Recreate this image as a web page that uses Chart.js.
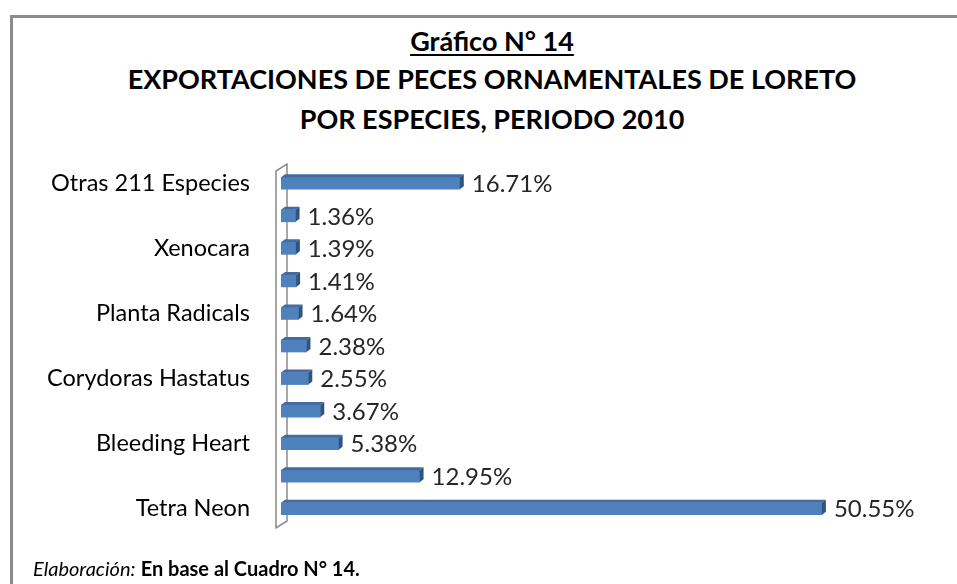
<!DOCTYPE html>
<html>
<head>
<meta charset="utf-8">
<script src="https://cdn.jsdelivr.net/npm/chart.js@4/dist/chart.umd.min.js"></script>
<style>
  html, body { margin: 0; padding: 0; background: #fff; overflow: hidden; }
  body { width: 957px; height: 584px; position: relative; font-family: Lato, "Open Sans", sans-serif; }
  #frame { position: absolute; left: 10px; top: 15px; right: -10px; bottom: -10px;
           border-left: 3px solid #8c8c8c; border-top: 3px solid #8c8c8c; }
  .ttl { position: absolute; left: 0; width: 984px; text-align: center; font-weight: bold; color: #000;
         font-size: 27px; line-height: 32px; }
  #t1 { top: 25px; text-decoration: underline; text-underline-offset: 3px; }
  #t2 { top: 63px; }
  #t3 { top: 103px; }
  #foot { position: absolute; left: 33px; top: 556px; font-size: 20px; color: #000; }
  canvas { position: absolute; left: 0; top: 0; }
</style>
</head>
<body>
<div id="frame"></div>
<div class="ttl" id="t1">Gráfico N° 14</div>
<div class="ttl" id="t2">EXPORTACIONES DE PECES ORNAMENTALES DE LORETO</div>
<div class="ttl" id="t3">POR ESPECIES, PERIODO 2010</div>
<canvas id="chart" width="957" height="584"></canvas>
<div id="foot"><i>Elaboración:</i> <b>En base al Cuadro N° 14.</b></div>
<script>
// top to bottom, as in the picture (only every other name is printed there)
const categories = [
    "Otras 211 Especies", "", "Xenocara", "", "Planta Radicals", "",
    "Corydoras Hastatus", "", "Bleeding Heart", "", "Tetra Neon"
];
const shares = [16.71, 1.36, 1.39, 1.41, 1.64, 2.38, 2.55, 3.67, 5.38, 12.95, 50.55];

const barBlue = "#4F81BD";
const fontFamily = "Lato, 'Open Sans', sans-serif";

// thin 3D wall behind the bars, 3D bar edges and value labels
const excelLook = {
    id: "excelLook",
    beforeDatasetsDraw(chart) {
        const { ctx, chartArea } = chart;
        const l = chartArea.left - 5, r = chartArea.left + 6;
        const top = chartArea.top, bot = chartArea.bottom;
        ctx.save();
        ctx.strokeStyle = "#8a8a8a";
        ctx.lineWidth = 1.5;
        ctx.fillStyle = "#fff";
        ctx.beginPath();
        ctx.moveTo(l, top + 4);
        ctx.lineTo(r, top - 3);
        ctx.lineTo(r, bot - 4);
        ctx.lineTo(l, bot + 3);
        ctx.closePath();
        ctx.fill();
        ctx.stroke();
        ctx.restore();
    },
    afterDatasetsDraw(chart) {
        const { ctx } = chart;
        const meta = chart.getDatasetMeta(0);
        const dx = 4, dy = -3;
        ctx.save();
        meta.data.forEach((bar, i) => {
            const p = bar.getProps(["x", "y", "base", "height"], true);
            const top = p.y - p.height / 2, bot = p.y + p.height / 2;
            // top face
            ctx.fillStyle = "#416C9F";
            ctx.beginPath();
            ctx.moveTo(p.base, top);
            ctx.lineTo(p.base + dx, top + dy);
            ctx.lineTo(p.x + dx, top + dy);
            ctx.lineTo(p.x, top);
            ctx.closePath();
            ctx.fill();
            // end cap
            ctx.fillStyle = "#2F5382";
            ctx.beginPath();
            ctx.moveTo(p.x, top);
            ctx.lineTo(p.x + dx, top + dy);
            ctx.lineTo(p.x + dx, bot + dy);
            ctx.lineTo(p.x, bot);
            ctx.closePath();
            ctx.fill();
            // value label
            ctx.fillStyle = "#262626";
            ctx.font = "24px " + fontFamily;
            ctx.textAlign = "left";
            ctx.textBaseline = "middle";
            ctx.fillText(shares[i].toFixed(2) + "%", p.x + 12, p.y + 1);
        });
        ctx.restore();
    }
};

new Chart(document.getElementById("chart"), {
    type: "bar",
    data: {
        labels: categories,
        datasets: [{
            data: shares,
            backgroundColor: barBlue,
            borderWidth: 0,
            barThickness: 12
        }]
    },
    options: {
        indexAxis: "y",
        responsive: false,
        animation: false,
        layout: { padding: { top: 167, bottom: 59, left: 0, right: 34 } },
        scales: {
            x: { display: false, min: 0, max: 60 },
            y: {
                grid: { display: false, drawTicks: false },
                border: { display: false },
                ticks: {
                    autoSkip: false,
                    padding: 31,
                    color: "#000",
                    font: { family: fontFamily, size: 23.5 }
                },
                afterFit: (s) => { s.width = 281; }
            }
        },
        plugins: {
            legend: { display: false },
            tooltip: { enabled: false }
        }
    },
    plugins: [excelLook]
});
</script>
</body>
</html>
